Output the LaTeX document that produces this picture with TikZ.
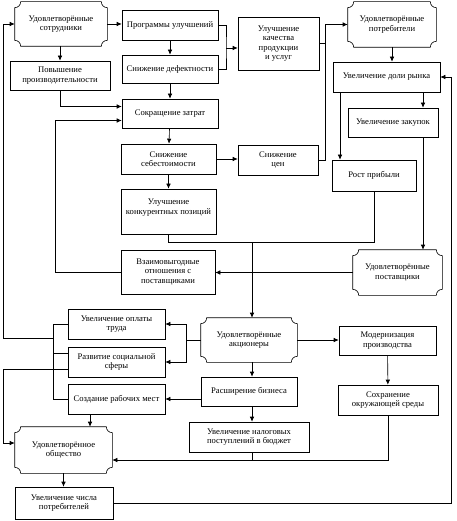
\documentclass[tikz,border=0pt]{standalone}
\usepackage{fontspec}
\setmainfont{Liberation Serif}
\usetikzlibrary{arrows.meta}
\begin{document}
\begin{tikzpicture}[x=1pt,y=-1pt,
  box/.style={draw, line width=0.6pt, align=center, inner sep=1pt, font=\fontsize{8.6}{9.5}\selectfont},
  pl/.style={box, draw=none},
  ln/.style={line width=0.6pt},
  arr/.style={line width=0.6pt, -{Latex[length=5pt,width=4.5pt]}}]
\useasboundingbox (0,0) rectangle (456,521);

% nodes
\node[pl,  minimum width=92pt, minimum height=44pt] (sotr) at (61,24) {Удовлетворённые\\сотрудники};
\node[box, minimum width=96pt, minimum height=30pt] (prog) at (170,25) {Программы улучшений};
\node[box, minimum width=96pt, minimum height=28pt] (defe) at (170,69) {Снижение дефектности};
\node[box, minimum width=100pt, minimum height=29pt] (proizv) at (60,75.5) {Повышение\\производительности};
\node[box, minimum width=96pt, minimum height=29pt] (zatr) at (170,113.5) {Сокращение затрат};
\node[box, minimum width=81pt, minimum height=53pt] (kach) at (278.5,43.5) {Улучшение\\качества\\продукции\\и услуг};
\node[pl,  minimum width=88pt, minimum height=45pt] (potr) at (392,24.5) {Удовлетворённые\\потребители};
\node[box, minimum width=107pt, minimum height=30pt] (dolya) at (386.5,77) {Увеличение доли рынка};
\node[box, minimum width=90pt, minimum height=29pt] (zakup) at (393,122.5) {Увеличение закупок};
\node[box, minimum width=95pt, minimum height=30pt] (sebest) at (168.5,159) {Снижение\\себестоимости};
\node[box, minimum width=80pt, minimum height=30pt] (ceny) at (278,160) {Снижение\\цен};
\node[box, minimum width=84pt, minimum height=31pt] (prib) at (374,175.5) {Рост прибыли};
\node[box, minimum width=95pt, minimum height=45pt] (konk) at (168.5,211.5) {Улучшение\\конкурентных позиций\\~};
\node[box, minimum width=94pt, minimum height=44pt] (vzaim) at (168,272) {Взаимовыгодные\\отношения с\\поставщиками};
\node[pl,  minimum width=89pt, minimum height=45pt] (post) at (397.5,272.5) {Удовлетворённые\\поставщики};
\node[box, minimum width=97pt, minimum height=30pt] (opl) at (116.5,324) {Увеличение оплаты\\труда};
\node[box, minimum width=97pt, minimum height=30pt] (razv) at (116.5,362) {Развитие социальной\\сферы};
\node[box, minimum width=97pt, minimum height=30pt] (sozd) at (116.5,399) {Создание рабочих мест};
\node[pl,  minimum width=96pt, minimum height=44pt] (akc) at (249,340) {Удовлетворённые\\акционеры};
\node[box, minimum width=97pt, minimum height=29pt] (modern) at (387.5,340.5) {Модернизация\\производства};
\node[box, minimum width=96pt, minimum height=29pt] (rassh) at (249,391.5) {Расширение бизнеса};
\node[box, minimum width=100pt, minimum height=30pt] (sohr) at (388,400) {Сохранение\\окружающей среды};
\node[box, minimum width=120pt, minimum height=30pt] (nalog) at (249,437) {Увеличение налоговых\\поступлений в бюджет};
\node[pl,  minimum width=97pt, minimum height=46pt] (obsh) at (63.5,450) {Удовлетворённое\\общество};
\node[box, minimum width=98pt, minimum height=32pt] (chisl) at (64,503) {Увеличение числа\\потребителей};

% plaque outlines
\foreach \n in {sotr,potr,post,akc,obsh}{
  \draw[ln] ([xshift=6pt]\n.north west) -- ([xshift=-6pt]\n.north east)
    arc[start angle=180,end angle=270,radius=6pt]
    -- ([yshift=6pt]\n.south east)
    arc[start angle=90,end angle=180,radius=6pt]
    -- ([xshift=6pt]\n.south west)
    arc[start angle=0,end angle=90,radius=6pt]
    -- ([yshift=-6pt]\n.north west)
    arc[start angle=270,end angle=360,radius=6pt] -- cycle;
}

% helper coordinates
\coordinate (br) at (226,48);
\coordinate (vq) at (325,0);
\coordinate (x340) at (340,0);
\coordinate (x423) at (423,0);
\coordinate (j) at (252,242);
\coordinate (k) at (186,0);
\coordinate (lb) at (53,0);
\coordinate (ll) at (3,338);
\coordinate (c55) at (55,0);
\coordinate (x90) at (90,0);
\coordinate (h) at (0,460);
\coordinate (rr) at (451,0);
\coordinate (zin1) at ([yshift=7pt]zatr.west);
\coordinate (zin2) at ([yshift=-7pt]zatr.west);
\coordinate (rz1) at ([yshift=9pt]razv.west);
\coordinate (rz2) at ([yshift=-7pt]razv.west);
\coordinate (oin) at ([yshift=7pt]obsh.west);

% connectors
\draw[arr] (sotr.east) -- (sotr.east -| prog.west);
\draw[arr] (prog) -- (defe);
\draw[arr] (defe) -- (zatr);
\draw[ln] (prog.east) -| (br) |- (defe.east);
\draw[arr] (br) -- (br -| kach.west);
\draw[arr] (proizv.south |- sotr.south) -- (proizv.north);
\draw[arr] (proizv.south) |- (zin1);
\draw[arr] (vzaim.west) -| (c55 |- zin2) -- (zin2);
\draw[arr] (zatr) -- (sebest);
\draw[arr] (sebest) -- (konk);
\draw[arr] (sebest.east) -- (sebest.east -| ceny.west);
\draw[ln] (kach.east) -- (kach.east -| vq);
\draw[arr] (ceny.east) -| (vq |- potr.west) -- (potr.west);
\draw[arr] (potr.south) -- (potr.south |- dolya.north);
\draw[arr] (dolya.south -| x423) -- (zakup.north -| x423);
\draw[arr] (dolya.south -| x340) -- (prib.north -| x340);
\draw[arr] (zakup.south -| x423) -- (post.north -| x423);
\draw[ln] (prib.south) |- (konk.south |- j) -- (konk.south);
\draw[arr] (j) -- (j |- akc.north);
\draw[arr] (post.west) -- (post.west -| vzaim.east);
\draw[arr] (akc.east) -- (akc.east -| modern.west);
\draw[arr] (modern) -- (sohr);
\draw[arr] (akc.south -| j) -- (rassh.north -| j);
\draw[arr] (rassh.south -| j) -- (nalog.north -| j);
\draw[arr] (akc.west) -| (k |- opl.east) -- (opl.east);
\draw[arr] (akc.west) -| (k |- razv.east) -- (razv.east);
\draw[arr] (rassh.west |- sozd.east) -- (sozd.east);
\draw[ln] (opl.west) -| (lb |- sozd.west) -- (sozd.west);
\draw[ln] (rz1) -- (lb |- rz1);
\draw[arr] (lb |- ll) -- (ll) |- (sotr.west);
\draw[arr] (rz2) -| (ll |- oin) -- (oin);
\draw[arr] (sozd.south -| x90) -- (obsh.north -| x90);
\draw[arr] (obsh.south) -- (obsh.south |- chisl.north);
\draw[ln] (nalog.south -| j) -- (h -| j);
\draw[arr] (sohr.south) |- (h -| obsh.east);
\draw[arr] (chisl.east) -| (rr |- dolya.east) -- (dolya.east);
\end{tikzpicture}
\end{document}
